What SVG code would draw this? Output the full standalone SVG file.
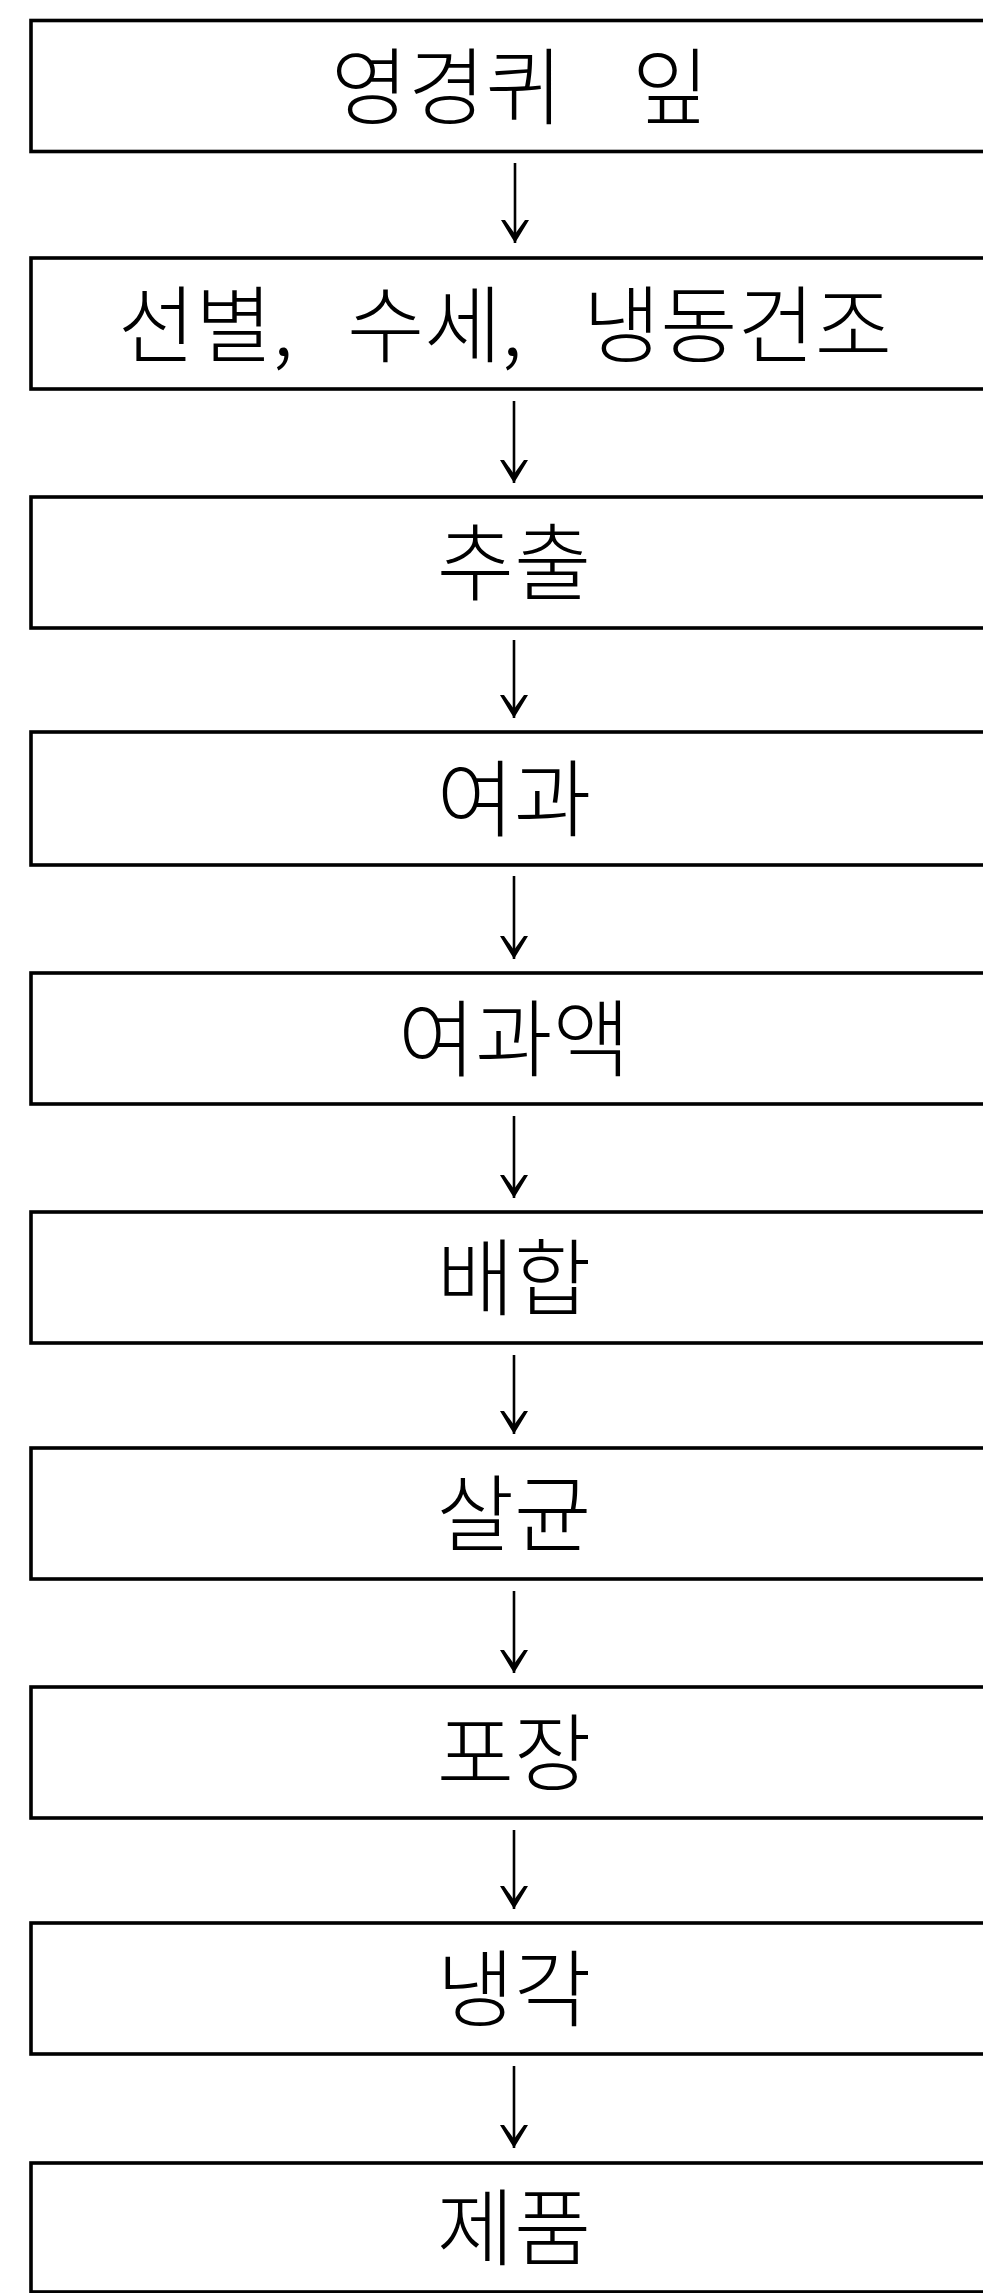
<svg xmlns="http://www.w3.org/2000/svg" width="983" height="2293" viewBox="0 0 983 2293">
<style>
.box{fill:#fff;stroke:#000;stroke-width:3.6}
.lbl{font-family:"Noto Sans CJK KR","Noto Sans CJK JP",sans-serif;font-size:84px;font-weight:300;fill:#000;text-anchor:middle}
.lbs{font-family:"Noto Sans CJK KR","Noto Sans CJK JP",sans-serif;font-size:84px;font-weight:300;fill:#000}
.conn{stroke:#000;stroke-width:2.6;fill:none}
</style>
<defs>
<marker id="ah" markerUnits="userSpaceOnUse" markerWidth="40" markerHeight="40" refX="30" refY="20" orient="auto" viewBox="0 0 40 40">
<polygon points="30,20 7,6 7,10 21,20 7,30 7,34" fill="#000"/>
</marker>
</defs>
<rect x="0" y="0" width="983" height="2293" fill="#fff"/>
<g id="connectors">
<line class="conn" x1="515" y1="163" x2="515" y2="243" marker-end="url(#ah)"/>
<line class="conn" x1="514" y1="401" x2="514" y2="483" marker-end="url(#ah)"/>
<line class="conn" x1="514" y1="640" x2="514" y2="718" marker-end="url(#ah)"/>
<line class="conn" x1="514" y1="876" x2="514" y2="959" marker-end="url(#ah)"/>
<line class="conn" x1="514" y1="1116" x2="514" y2="1198" marker-end="url(#ah)"/>
<line class="conn" x1="514" y1="1355" x2="514" y2="1434" marker-end="url(#ah)"/>
<line class="conn" x1="514" y1="1591" x2="514" y2="1673" marker-end="url(#ah)"/>
<line class="conn" x1="514" y1="1830" x2="514" y2="1909" marker-end="url(#ah)"/>
<line class="conn" x1="514" y1="2066" x2="514" y2="2148" marker-end="url(#ah)"/>
</g>
<g id="n1"><rect class="box" x="31" y="20.5" width="1000" height="131"/><text class="lbs" y="118"><tspan x="331">영경퀴 </tspan><tspan x="632">잎</tspan></text></g>
<g id="n2"><rect class="box" x="31" y="258" width="1000" height="131"/><text class="lbs" y="356"><tspan x="118">선별, </tspan><tspan x="347">수세, </tspan><tspan x="583">냉동건조</tspan></text></g>
<g id="n3"><rect class="box" x="31" y="497" width="1000" height="131"/><text class="lbl" x="514" y="594">추출</text></g>
<g id="n4"><rect class="box" x="31" y="732" width="1000" height="133"/><text class="lbl" x="514" y="830">여과</text></g>
<g id="n5"><rect class="box" x="31" y="973" width="1000" height="131"/><text class="lbl" x="514" y="1070">여과액</text></g>
<g id="n6"><rect class="box" x="31" y="1212" width="1000" height="131"/><text class="lbl" x="514" y="1309">배합</text></g>
<g id="n7"><rect class="box" x="31" y="1448" width="1000" height="131"/><text class="lbl" x="514" y="1545">살균</text></g>
<g id="n8"><rect class="box" x="31" y="1687" width="1000" height="131"/><text class="lbl" x="514" y="1784">포장</text></g>
<g id="n9"><rect class="box" x="31" y="1923" width="1000" height="131"/><text class="lbl" x="514" y="2020">냉각</text></g>
<g id="n10"><rect class="box" x="31" y="2163" width="1000" height="129"/><text class="lbl" x="514" y="2259">제품</text></g>
</svg>
